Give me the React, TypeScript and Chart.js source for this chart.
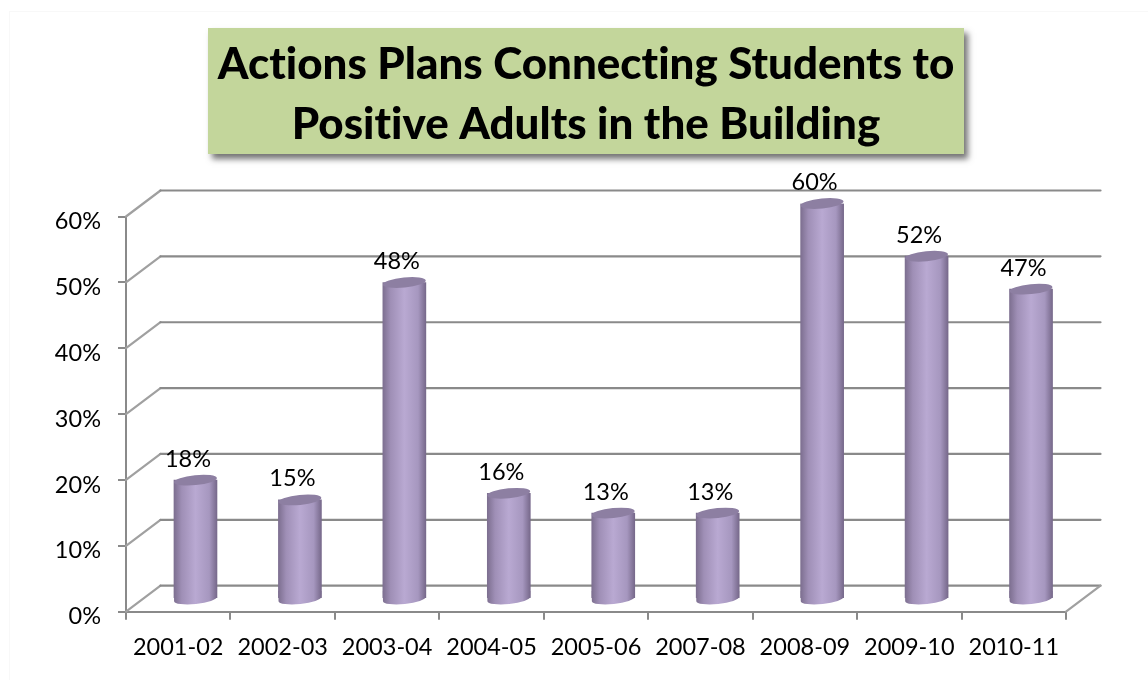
import React, { useEffect, useRef } from "react";
import { Chart, registerables } from "chart.js";

Chart.register(...registerables);

const categories = ["2001-02", "2002-03", "2003-04", "2004-05", "2005-06", "2007-08", "2008-09", "2009-10", "2010-11"];
const participation = [18, 15, 48, 16, 13, 13, 60, 52, 47];
const titleLines = ["Actions Plans Connecting Students to", "Positive Adults in the Building"];

const FONT = "Lato, Carlito, Calibri, sans-serif";
const DEPTH_X = 34.5;
const DEPTH_Y = 26;
const AXIS_GREY = "#8a8a8a";
const SIDE_GREY = "#a0a0a0";

// Horizontal shading that gives each column its rounded look.
function cylinderFill(ctx: CanvasRenderingContext2D, left: number, right: number) {
  const g = ctx.createLinearGradient(left, 0, right, 0);
  g.addColorStop(0, "#7d6f90");
  g.addColorStop(0.18, "#9f8fb6");
  g.addColorStop(0.5, "#b9a9d2");
  g.addColorStop(0.82, "#a697bf");
  g.addColorStop(1, "#77698b");
  return g;
}

const TILT = -0.1;

// Green banner behind the title, with its soft drop shadow.
const titleBanner = {
  id: "titleBanner",
  beforeDraw(chart: any) {
    const { ctx } = chart;
    // A tiny letter spacing keeps Lato's "ti" from collapsing into a ligature.
    ctx.letterSpacing = "0.01px";
    ctx.save();
    ctx.shadowColor = "rgba(70,70,70,0.75)";
    ctx.shadowBlur = 6;
    ctx.shadowOffsetX = 4;
    ctx.shadowOffsetY = 5;
    ctx.fillStyle = "#c3d69b";
    ctx.fillRect(208, 28, 756, 126);
    ctx.restore();
  },
};

// Back wall, floor and side lines of the 3-D frame, taken from the value scale.
const frame3d = {
  id: "frame3d",
  beforeDatasetsDraw(chart: any) {
    const { ctx, chartArea, scales } = chart;
    const { left, right } = chartArea;
    ctx.save();
    ctx.lineCap = "round";
    ctx.lineWidth = 2.2;
    scales.y.ticks.forEach((t: any) => {
      const y = scales.y.getPixelForValue(t.value);
      ctx.strokeStyle = SIDE_GREY;
      ctx.beginPath();
      ctx.moveTo(left, y);
      ctx.lineTo(left + DEPTH_X, y - DEPTH_Y);
      ctx.stroke();
      ctx.strokeStyle = AXIS_GREY;
      ctx.beginPath();
      ctx.moveTo(left + DEPTH_X, y - DEPTH_Y);
      ctx.lineTo(right + DEPTH_X, y - DEPTH_Y);
      ctx.stroke();
    });
    const y0 = scales.y.getPixelForValue(0);
    ctx.strokeStyle = SIDE_GREY;
    ctx.beginPath();
    ctx.moveTo(right, y0);
    ctx.lineTo(right + DEPTH_X, y0 - DEPTH_Y);
    ctx.stroke();
    ctx.restore();
  },
};

// Columns sit halfway into the frame's depth; the body is the library's bar
// element, with the two elliptical caps added on top of it.
const cylinders = {
  id: "cylinders",
  beforeDatasetDraw(chart: any) {
    const { ctx } = chart;
    ctx.save();
    ctx.translate(DEPTH_X / 2, -DEPTH_Y / 2);
  },
  afterDatasetDraw(chart: any, args: any) {
    const { ctx } = chart;
    const meta = chart.getDatasetMeta(args.index);
    meta.data.forEach((bar: any) => {
      const rx = bar.width / 2;
      const bodyBottom = bar.base + 1.3;
      // Lower rim: a band running up into the body so the tilted arc leaves no gap.
      ctx.fillStyle = cylinderFill(ctx, bar.x - rx, bar.x + rx);
      ctx.beginPath();
      ctx.moveTo(bar.x - rx, bodyBottom - 8);
      ctx.lineTo(bar.x + rx, bodyBottom - 8);
      ctx.ellipse(bar.x, bodyBottom, rx, 5, TILT, 0, Math.PI);
      ctx.closePath();
      ctx.fill();
      ctx.fillStyle = "#8d7fa2";
      ctx.beginPath();
      ctx.ellipse(bar.x, bar.y, rx, 5, TILT, 0, Math.PI * 2);
      ctx.fill();
    });
    ctx.restore();
  },
  afterDatasetsDraw(chart: any) {
    const { ctx } = chart;
    const meta = chart.getDatasetMeta(0);
    ctx.save();
    ctx.font = `23.5px ${FONT}`;
    ctx.fillStyle = "#000";
    ctx.textAlign = "center";
    ctx.textBaseline = "middle";
    meta.data.forEach((bar: any, i: number) => {
      ctx.fillText(`${participation[i]}%`, bar.x + DEPTH_X / 2 - 7.5, bar.y - DEPTH_Y / 2 - 21);
    });
    ctx.restore();
  },
};

export default function App() {
  const canvasRef = useRef<HTMLCanvasElement | null>(null);

  useEffect(() => {
    document.body.style.margin = "0";
    const chart = new Chart(canvasRef.current!, {
      type: "bar",
      data: {
        labels: categories,
        datasets: [
          {
            label: "Action plans",
            data: participation,
            barThickness: 43,
            borderWidth: 0,
            backgroundColor: (c: any) => {
              const x = c.chart.scales.x?.getPixelForValue(c.dataIndex);
              if (!Number.isFinite(x)) return "#b9a9d2";
              return cylinderFill(c.chart.ctx, x - 21.5, x + 21.5);
            },
          },
        ],
      },
      options: {
        responsive: false,
        animation: false,
        layout: { padding: { left: 24, right: 0, top: 0, bottom: 0 } },
        plugins: {
          legend: { display: false },
          tooltip: { enabled: false },
          title: {
            display: true,
            text: titleLines,
            color: "#000",
            font: { family: FONT, size: 43.9, weight: "900", lineHeight: 60 / 43.9 },
            padding: { top: 35, bottom: 61.5 },
          },
        },
        scales: {
          x: {
            afterFit: (s: any) => {
              s.height = 68.3;
            },
            border: { color: AXIS_GREY, width: 2 },
            grid: { drawOnChartArea: false, tickLength: 8, tickColor: AXIS_GREY, lineWidth: 2 },
            ticks: {
              color: "#000",
              font: { family: FONT, size: 23.5 },
              maxRotation: 0,
              autoSkip: false,
              padding: 14,
            },
          },
          y: {
            min: 0,
            max: 60,
            afterFit: (s: any) => {
              s.width = 102;
            },
            border: { color: AXIS_GREY, width: 2 },
            grid: { drawOnChartArea: false, tickLength: 8, tickColor: AXIS_GREY, lineWidth: 2 },
            ticks: {
              stepSize: 10,
              color: "#000",
              font: { family: FONT, size: 23.5 },
              padding: 17,
              labelOffset: 5,
              callback: (v: any) => `${v}%`,
            },
          },
          // Empty axis that reserves room on the right for the frame's depth.
          depth: {
            type: "linear",
            position: "right",
            afterFit: (s: any) => {
              s.width = 82;
            },
            border: { display: false },
            grid: { display: false },
            ticks: { display: false },
          },
        },
      },
      plugins: [titleBanner, frame3d, cylinders],
    } as any);
    return () => chart.destroy();
  }, []);

  return (
    <div style={{ position: "relative", width: 1148, height: 680, overflow: "hidden", background: "#fff" }}>
      <div
        style={{
          position: "absolute",
          left: 9,
          top: 11,
          right: 0,
          bottom: 0,
          borderLeft: "1px solid #f8f8f8",
          borderTop: "1px solid #f8f8f8",
        }}
      />
      <canvas ref={canvasRef} width={1148} height={680} style={{ position: "absolute", left: 0, top: 0 }} />
    </div>
  );
}
